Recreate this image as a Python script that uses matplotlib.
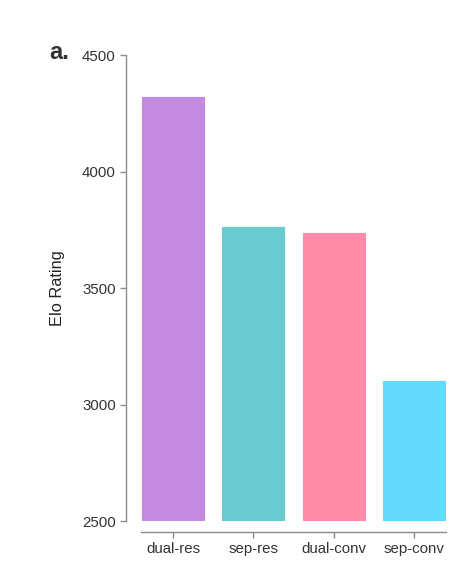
import matplotlib
matplotlib.use("Agg")
import matplotlib.pyplot as plt

models = ['dual-res', 'sep-res', 'dual-conv', 'sep-conv']
elo = [4325, 3765, 3742, 3105]
colors = ['#C38BE0', '#69CACF', '#FF8BA8', '#66D9FF']

plt.rcParams['font.family'] = ['Liberation Sans', 'DejaVu Sans']

fig = plt.figure(figsize=(4.68, 5.78), dpi=100)
ax = fig.add_axes([0.3013, 0.0986, 0.6517, 0.8062])

ax.bar(range(len(models)), elo, width=0.8, bottom=0, color=colors,
       edgecolor='white', linewidth=0.6)

ax.set_xlim(-0.4, 3.4)
ax.set_ylim(2500, 4500)
ax.set_yticks([2500, 3000, 3500, 4000, 4500])
ax.set_xticks(range(len(models)))
ax.set_xticklabels(models)
ax.set_ylabel('Elo Rating', fontsize=11.8, color='#222222', labelpad=12)

for s in ['top', 'right']:
    ax.spines[s].set_visible(False)
ax.spines['left'].set_position(('outward', 10.8))
ax.spines['bottom'].set_position(('outward', 7.9))
for s in ['left', 'bottom']:
    ax.spines[s].set_color('#8c8c8c')
    ax.spines[s].set_linewidth(1.0)
ax.tick_params(colors='#8c8c8c', labelcolor='#333333', labelsize=10.8,
               length=4.3, width=1.0, pad=3)

fig.text(0.105, 0.91, 'a.', fontsize=17, fontweight='bold', color='#333333',
         va='center', ha='left')

fig.savefig('out.png', dpi=100)
